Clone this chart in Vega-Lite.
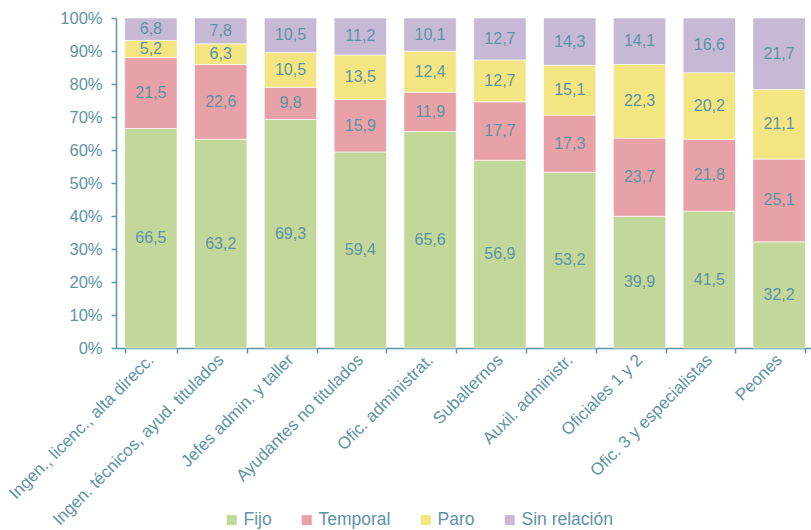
{
  "$schema": "https://vega.github.io/schema/vega-lite/v6.json",
  "width": 698,
  "height": 330,
  "autosize": {"type": "none"},
  "padding": {"left": 116, "top": 18, "right": 0, "bottom": 182},
  "background": "white",
  "config": {
    "locale": {"number": {"decimal": ",", "thousands": ".", "grouping": [3], "currency": ["", " €"]}},
    "font": "Liberation Sans",
    "view": {"stroke": null},
    "axis": {"labelColor": "#5e93a5", "domainColor": "#5e93a5", "tickColor": "#5e93a5", "labelFont": "Liberation Sans", "grid": false, "title": null, "domainWidth": 1.5, "tickWidth": 1.5}
  },
  "resolve": {"axis": {"y": "independent"}},
  "data": {
    "values": [
      {"grupo": "Ingen., licenc., alta direcc.", "tipo": "Fijo", "ord": 1, "valor": 66.5},
      {"grupo": "Ingen., licenc., alta direcc.", "tipo": "Temporal", "ord": 2, "valor": 21.5},
      {"grupo": "Ingen., licenc., alta direcc.", "tipo": "Paro", "ord": 3, "valor": 5.2},
      {"grupo": "Ingen., licenc., alta direcc.", "tipo": "Sin relación", "ord": 4, "valor": 6.8},
      {"grupo": "Ingen. técnicos, ayud. titulados", "tipo": "Fijo", "ord": 1, "valor": 63.2},
      {"grupo": "Ingen. técnicos, ayud. titulados", "tipo": "Temporal", "ord": 2, "valor": 22.6},
      {"grupo": "Ingen. técnicos, ayud. titulados", "tipo": "Paro", "ord": 3, "valor": 6.3},
      {"grupo": "Ingen. técnicos, ayud. titulados", "tipo": "Sin relación", "ord": 4, "valor": 7.8},
      {"grupo": "Jefes admin. y taller", "tipo": "Fijo", "ord": 1, "valor": 69.3},
      {"grupo": "Jefes admin. y taller", "tipo": "Temporal", "ord": 2, "valor": 9.8},
      {"grupo": "Jefes admin. y taller", "tipo": "Paro", "ord": 3, "valor": 10.5},
      {"grupo": "Jefes admin. y taller", "tipo": "Sin relación", "ord": 4, "valor": 10.5},
      {"grupo": "Ayudantes no titulados", "tipo": "Fijo", "ord": 1, "valor": 59.4},
      {"grupo": "Ayudantes no titulados", "tipo": "Temporal", "ord": 2, "valor": 15.9},
      {"grupo": "Ayudantes no titulados", "tipo": "Paro", "ord": 3, "valor": 13.5},
      {"grupo": "Ayudantes no titulados", "tipo": "Sin relación", "ord": 4, "valor": 11.2},
      {"grupo": "Ofic. administrat.", "tipo": "Fijo", "ord": 1, "valor": 65.6},
      {"grupo": "Ofic. administrat.", "tipo": "Temporal", "ord": 2, "valor": 11.9},
      {"grupo": "Ofic. administrat.", "tipo": "Paro", "ord": 3, "valor": 12.4},
      {"grupo": "Ofic. administrat.", "tipo": "Sin relación", "ord": 4, "valor": 10.1},
      {"grupo": "Subalternos", "tipo": "Fijo", "ord": 1, "valor": 56.9},
      {"grupo": "Subalternos", "tipo": "Temporal", "ord": 2, "valor": 17.7},
      {"grupo": "Subalternos", "tipo": "Paro", "ord": 3, "valor": 12.7},
      {"grupo": "Subalternos", "tipo": "Sin relación", "ord": 4, "valor": 12.7},
      {"grupo": "Auxil. administr.", "tipo": "Fijo", "ord": 1, "valor": 53.2},
      {"grupo": "Auxil. administr.", "tipo": "Temporal", "ord": 2, "valor": 17.3},
      {"grupo": "Auxil. administr.", "tipo": "Paro", "ord": 3, "valor": 15.1},
      {"grupo": "Auxil. administr.", "tipo": "Sin relación", "ord": 4, "valor": 14.3},
      {"grupo": "Oficiales 1 y 2", "tipo": "Fijo", "ord": 1, "valor": 39.9},
      {"grupo": "Oficiales 1 y 2", "tipo": "Temporal", "ord": 2, "valor": 23.7},
      {"grupo": "Oficiales 1 y 2", "tipo": "Paro", "ord": 3, "valor": 22.3},
      {"grupo": "Oficiales 1 y 2", "tipo": "Sin relación", "ord": 4, "valor": 14.1},
      {"grupo": "Ofic. 3 y especialistas", "tipo": "Fijo", "ord": 1, "valor": 41.5},
      {"grupo": "Ofic. 3 y especialistas", "tipo": "Temporal", "ord": 2, "valor": 21.8},
      {"grupo": "Ofic. 3 y especialistas", "tipo": "Paro", "ord": 3, "valor": 20.2},
      {"grupo": "Ofic. 3 y especialistas", "tipo": "Sin relación", "ord": 4, "valor": 16.6},
      {"grupo": "Peones", "tipo": "Fijo", "ord": 1, "valor": 32.2},
      {"grupo": "Peones", "tipo": "Temporal", "ord": 2, "valor": 25.1},
      {"grupo": "Peones", "tipo": "Paro", "ord": 3, "valor": 21.1},
      {"grupo": "Peones", "tipo": "Sin relación", "ord": 4, "valor": 21.7}
    ]
  },
  "transform": [
    {"stack": "valor", "groupby": ["grupo"], "sort": [{"field": "ord", "order": "ascending"}], "offset": "normalize", "as": ["n0", "n1"]},
    {"calculate": "datum.n0 * 100", "as": "y0"},
    {"calculate": "datum.n1 * 100", "as": "y1"},
    {"calculate": "(datum.y0 + datum.y1) / 2", "as": "ymid"}
  ],
  "encoding": {
    "x": {
      "field": "grupo",
      "type": "nominal",
      "sort": null,
      "scale": {"paddingInner": 0.25, "paddingOuter": 0.125},
      "axis": {"labelAngle": -45, "labelAlign": "right", "labelBaseline": "middle", "labelFontSize": 17, "tickBand": "extent", "tickSize": 5, "labelPadding": 4, "labelLimit": 400}
    }
  },
  "layer": [
    {
      "mark": {"type": "bar", "stroke": "white", "strokeWidth": 0.6},
      "encoding": {
        "y": {"field": "y0", "type": "quantitative", "scale": {"domain": [0, 100], "nice": false}, "axis": {"labelExpr": "datum.value + '%'", "values": [0, 10, 20, 30, 40, 50, 60, 70, 80, 90, 100], "tickCount": 11, "labelFontSize": 16.5, "tickSize": 5, "labelPadding": 9, "labelOverlap": false, "labelBound": false}},
        "y2": {"field": "y1"},
        "color": {
          "field": "tipo",
          "type": "nominal",
          "sort": ["Fijo", "Temporal", "Paro", "Sin relación"],
          "scale": {"domain": ["Fijo", "Temporal", "Paro", "Sin relación"], "range": ["#c2d89a", "#e8a2a7", "#f3e682", "#c5b9d6"]},
          "legend": {"title": null, "orient": "none", "direction": "horizontal", "legendX": 107, "legendY": 493, "symbolType": "square", "symbolSize": 100, "symbolStrokeWidth": 0, "symbolOpacity": 1, "labelFontSize": 17.5, "labelColor": "#5e93a5", "labelOffset": 3, "columnPadding": 26, "labelFont": "Liberation Sans"}
        }
      }
    },
    {
      "mark": {"type": "text", "fontSize": 16, "color": "#5e93a5", "baseline": "middle", "font": "Liberation Sans"},
      "encoding": {
        "y": {"field": "ymid", "type": "quantitative", "axis": null},
        "text": {"field": "valor", "type": "quantitative", "format": ".1f"}
      }
    }
  ]
}
